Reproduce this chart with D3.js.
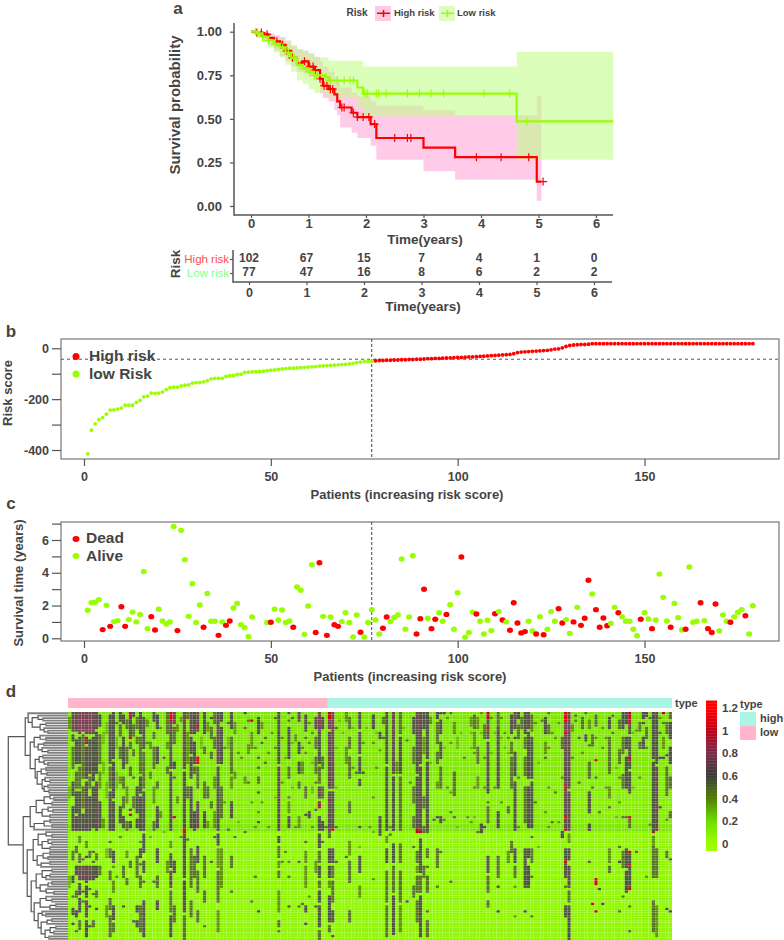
<!DOCTYPE html>
<html>
<head>
<meta charset="UTF-8">
<title>Risk model</title>
<script src="https://d3js.org/d3.v7.min.js"></script>
<style>
  * { margin: 0; padding: 0; box-sizing: border-box; }
  body { background: #fff; }
  text { font-family: "Liberation Sans", Arial, sans-serif; font-weight: bold; fill: #444; }
  .tick line, .axis-line { stroke: #555; }
</style>
</head>
<body>
<div id="chart"></div>
<script>
// panel a: survival curves
const highTimes = [0,.1,.2,.3,.4,.5,.6,.7,.8,.9,1.0,1.1,1.2,1.25,1.35,1.45,1.5,1.55,1.75,1.85,2.08,2.18,3.0,3.55,4.97,5.05];
const highSurv  = [1,.995,.985,.965,.945,.925,.89,.85,.82,.83,.80,.78,.73,.69,.67,.64,.60,.565,.535,.51,.47,.39,.335,.28,.14,.14];
const highLower = [1,.97,.95,.92,.89,.86,.83,.80,.77,.76,.74,.72,.645,.62,.60,.55,.52,.45,.42,.39,.345,.265,.2,.15,.03,.03];
const highUpper = [1,1,1,.99,.98,.97,.95,.92,.90,.89,.875,.857,.83,.80,.77,.74,.72,.68,.65,.63,.60,.575,.55,.52,.63,.63];
const lowTimes = [0,.1,.2,.3,.4,.5,.6,.7,.8,.9,1.0,1.1,1.3,1.35,1.85,1.95,4.62,6.3];
const lowSurv  = [1,.99,.97,.95,.93,.91,.88,.85,.81,.79,.77,.75,.74,.72,.68,.645,.485,.485];
const lowLower = [1,.97,.94,.91,.88,.85,.81,.77,.72,.70,.67,.65,.64,.62,.565,.515,.265,.265];
const lowUpper = [1,1,.99,.98,.97,.96,.94,.92,.90,.89,.875,.853,.853,.833,.833,.80,.885,.885];
const highCensor = [.1,.18,.28,.45,.52,.55,.62,.72,.93,1.02,1.08,1.12,1.2,1.27,1.32,1.38,1.42,1.58,1.62,1.78,1.85,1.95,2.05,2.15,2.5,2.72,2.78,3.92,4.35,4.83,5.08];
const lowCensor = [.08,.12,.2,.3,.42,.55,.65,.75,.85,.95,1.02,1.1,1.15,1.3,1.38,1.5,1.62,1.72,1.78,1.98,2.02,2.18,2.22,2.35,2.72,2.93,3.13,3.35,4.05,4.5,4.8];
const tableYears = [0,1,2,3,4,5,6];
const tableHigh = [102,67,15,7,4,1,0];
const tableLow = [77,47,16,8,6,2,2];

// panel b: risk score for patients 1..179, sorted
const riskScore = [-415,-322,-297,-281,-273,-259,-243,-242,-239,-235,-224,-224,-224,-213,-205,-191,-188,-176,-177,-176,
  -172,-163,-155,-153,-153,-148,-145,-144,-137,-135,-135,-132,-127,-120,-118,-118,-118,-111,-108,-107,
  -103,-102,-95,-94,-93,-92,-91,-90,-88,-86,-85,-83,-81,-80,-78,-78,-77,-76,-75,-74,
  -73,-72,-70,-69,-68,-67,-66,-65,-64,-63,-61,-59,-56,-54,-52,-52,-51,
  -49,-48,-48,-47,-47,-46,-46,-45,-45,-44,-44,-43,-43,-42,-41,-41,-40,-40,-39,-38,-38,-37,-36,
  -36,-35,-34,-34,-33,-32,-31,-30,-29,-28,-27,-26,-25,-24,-21,-17,-15,-14,-13,-12,-11,-10,-9,-8,-6,-3,-2,
  2,7,11,13,14,15,15,16,18,18,18,18,18,18,18,18,18,18,18,18,18,18,18,18,18,18,18,18,18,18,18,
  18,18,18,18,18,18,18,18,18,18,18,18,18,18,18,18,18,18,18,18,18];

// panel c: survival time, null where no point shows
const survivalTime = [1.71,2.17,2.2,2.36,.53,2.01,.73,1.02,1.08,1.93,.73,1.14,1.6,1.0,1.46,4.07,.59,1.32,.51,1.77,
  1.06,.87,1.0,6.83,.47,6.59,4.8,1.34,3.33,.96,2.03,.67,2.74,1.04,1.04,.18,1.0,.79,1.06,1.85,
  2.13,.83,.65,.1,1.3,null,null,null,.96,.98,1.77,1.12,1.73,.96,1.06,.67,3.13,2.93,.24,1.97,
  4.49,.35,4.61,1.34,.18,1.3,.83,.73,1.02,1.56,.96,.08,1.42,.37,.08,.96,1.75,1.12,.26,.61,
  1.3,1.02,1.28,1.42,4.84,.55,1.3,5.04,.26,1.2,2.99,1.22,.59,1.16,1.56,1.04,1.46,2.05,.55,2.78,
  4.96,.06,.35,1.6,1.48,1.04,.26,1.1,.47,1.5,1.63,1.12,1.0,.49,2.17,.93,.33,.41,1.04,.45,
  .26,1.32,.22,.55,1.63,1.04,1.81,.93,1.14,.3,1.0,1.89,.79,1.22,3.54,2.7,1.75,.67,1.24,.77,
  .91,1.89,1.56,1.32,1.04,1.04,.55,.16,1.16,1.56,1.18,.59,1.12,3.92,2.5,1.06,.67,2.13,1.26,.51,
  .55,4.35,.98,1.04,2.17,1.08,.59,.35,2.09,.45,1.42,1.04,.98,1.3,1.59,1.75,1.38,.26,1.99];
const deadPatients = [5,7,10,11,18,19,25,32,36,38,39,50,56,62,63,65,67,68,74,80,81,89,90,91,93,94,97,101,105,110,112,114,115,116,117,118,121,123,127,128,131,133,134,135,137,138,139,140,143,149,152,157,161,165,167,168,169,173,177];

// panel d: dark runs per heatmap column, "first-last/level" by row, level in tenths
const heatRowCount = 92;
const heatRowBase = [.2,.18,.2,.16,.2,.18,.16,.2,.14,.18,.16,.2,.14,.18,.16,.14,.18,.16,.14,.2,.16,.14,.18,.14,.16,.18,.14,.12,.16,.14,
  .12,.16,.14,.12,.15,.13,.11,.15,.12,.14,.11,.13,.15,.12,.14,.16,.18,.2,.08,.05,.06,.05,.07,.05,.08,.06,.09,.07,.05,.08,
  .06,.09,.07,.05,.08,.06,.05,.08,.06,.07,.05,.08,.06,.05,.07,.09,.06,.05,.08,.06,.07,.05,.08,.06,.05,.07,.06,.05,.08,.06,.05,.07];
const heatRuns = [
  "2-6/4 30-34/3 66-70/3","0-7/7 9-11/6 14-22/5 28-33/6 38-47/6 56-59/5 66-68/6 74/5 79-81/6 85/6","0-7/7 11-20/6 24-30/5 32-40/6 42-47/7 54-56/5 62-65/6 72-74/5 80-82/6 88/5",
  "0-8/8 10-20/6 22-30/5 32-47/6 50-52/4 57-60/5 62-67/7 69-73/6 75-80/6 84-87/5","0-7/8 9-26/5 30-38/5 41-47/6 59/5 62-67/7 72/5 76/5","0-8/8 10-12/9 14-26/7 28-47/7 52-54/4 58/6 62-68/7 70-74/6 76-82/7 84-90/6",
  "0-8/8 11-24/6 26-30/5 34-47/6 56-58/5 62-67/7 71/5 78/6 86/6","0-8/7 10-27/6 30-46/6 56/5 60/5 62-67/6 73/5 84-86/5","0-6/7 8-24/6 28-47/7 57-59/5 62-66/6 72-74/5 79/6",
  "1-5/6 9-20/5 24-30/4 36-46/6 62-65/5","8-12/3 20-24/3 43-46/4","4-8/3 28-34/3 55-58/3 78-82/4",
  "1-20/6 22-30/5 32-47/6 52/5 55-58/5 64-67/5 75-79/5 82-90/5","0-18/6 20-34/6 36-47/6 56-60/6 62/4 68-72/4 78-83/6 85-88/5","4/5 10-14/3 24-30/3 66/4",
  "0-3/6 5-9/5 14-18/5 26-28/4 38-44/6 50/4","1-4/6 10-22/6 26-30/5 34-38/5 42-46/6 62-66/5 78/6","3-6/5 14-20/5 30-36/4 44-47/5 56-58/4 67-69/5",
  "0-2/9 3-9/6 10/11 12-14/5 22-25/5 39/6 41/11 44-46/6 60-62/5","0-1/6 5-9/5 15-17/5 26/5 34-38/5 84/6","2-6/5 10-12/5 30-40/6 43-46/6 58-66/5 78-80/6 84-86/6",
  "0-8/6 10-24/5 26-32/6 34-47/6 52/4 55-58/6 61/5 66-70/5 78-88/5","2-14/6 16-30/5 32-47/6 49-56/6 60-64/6 68/5 76-90/6","3-5/4 12/4","12-14/4 24-26/4 50/3",
  "0-3/6 8-10/5 14-22/5 30-36/4 44-47/5 68/5","1-6/6 14-20/6 28-30/5 38-46/6 55-60/6 66-70/5 76-79/6","6/4 40-42/4","18/5 48/3","0-8/5 12-14/4 22-24/5 60-64/4",
  "0-3/11 4-8/7 9-22/6 24-47/6 52-54/4 57-62/6 64-70/7 72-80/5 82-90/6","0-4/8 6-12/5 20-22/6 26/5 42/10 60-64/6 78-84/5","5-7/4 34-36/4","2-3/4 50/4",
  "0-22/7 24-47/6 47-48/11 49-66/6 68-80/6 82-91/5","0-2/5 8-20/4 30-34/5 51/5","0-8/7 10-16/6 18-26/6 30-46/6 55-70/5 76-82/5","0-8/6 12-20/6 22-24/5 40-47/6 58-66/5",
  "0-7/7 5/10 18-20/11 22-30/5 36-46/7 54-60/6 64-72/5 80-84/5","10-14/3","0-8/6 14-16/5 28-34/5 40-46/6 58-66/5 72-76/5 86/5","4-7/4 30-34/5 44-46/4",
  "2/6 6-10/5 16-18/5 36-38/5 60/5","0-4/5 10-14/5 26-30/4 40-46/4 50/5","0-20/7 22-47/6 49-53/6 55-62/4 64-76/5 80-88/4","0-3/6 6-20/6 30-42/5 55-70/4","14/4 36/4","4/5 10-14/3 47/5",
  "0-6/6 10-24/5 26-30/4 36-42/6 58-62/5 72/5","4-8/4 24-26/4 50/5","16/4 44/3","18/4","0/6 6/5 26-28/4 48/5","3/5 13-16/4 28/5","3/10 8-14/4 36/4 76/5","14/4 46/4 66/5",
  "2-8/6 18/5 22/5 26-28/5 32/6 40/4 44/6 80/6","4-6/4 12/5 36/4","10/5 20/5","16/4 46/4","8/4","2/5 14/4 34/3",
  "0-20/6 22-47/7 50-52/6 54-58/5 60-62/4 64-66/5 72-80/4 84-86/5 88/5","10/4 28/4 60/4","18/3 56/4","0/8 3/5 6-18/6 22-26/5 34/5 36-40/4 42-46/6 60/4 66/5 78/6","2/5 12/3 30/3","9-11/4 46/4",
  "0-3/7 12-16/6 20-24/6 28-30/5 42-46/4 60/5 78/5","14/4 20-24/4 77/5","1-7/6 10/5 16/4 30-34/5 41/6 52/5 56-60/4 62-70/4 78-80/6 85/6","4/4 12/4 40-42/6 74/4","8/4 20/3 30-32/3 46/4",
  "2-6/7 10-14/5 18-24/5 28/5 39/5 60-64/4 78/6","0-7/8 8-20/6 22-28/5 30-34/7 36-38/9 42-47/6 49-54/6 56-60/5 62-66/6 68-70/5 72-76/6 78-86/6 88-91/5","2-6/7 18-22/5 30-34/5 44-47/6 52/5","46/5",
  "0-2/10 3-6/8 8-30/7 32-47/7 48-50/5 55-60/6 62-66/6 68-70/4 74-84/6 86-88/5","0-7/8 8-30/7 32-47/6 47/11 55-60/6 62-66/5 68-76/5 80-84/6 90/6","6/5 14/3 30/3 46/5 60/5","3/3","8/3","0-3/4 14-20/4 58/5",
  "2-6/5 10-14/5 18-26/5 36-40/5 52-57/4 60-68/5 80-84/5","6/3 22/4","24/5","0-6/6 8-16/6 18-24/6 27-29/6 46/6 54/3 58-64/6 70-74/4","12/4 24/6","6/3","46/4",
  "1-6/6 12/4 34/4 48/3 67/4","8/3 22/4","8-10/6 15/4 42-49/6","2-4/5 10/5","0-20/6 22-47/6 50-52/4 55-60/6 64-76/5 78-90/5","46/4 49/5","0-24/7 26-47/6 53-60/6 62-72/5 74-89/6","20-24/4",
  "0-8/5 10-24/6 26-47/5 53-60/5 64-76/5 78-88/4","6/3","11/5 76/6","28/4","2-8/6 14-20/5 30-36/5 42-46/5 54/5 70-74/5","0-8/7 9-24/6 26-47/6 47-48/10 56-60/5 62-64/4 66-72/5 76-84/5",
  "0-20/7 22-47/7 48/10 51-55/6 56-64/6 66-72/5 74-90/6","0-6/6 10-16/4 34-38/5 46-48/5 62-66/5","0-18/6 20-47/6 48/5 55-58/5 62/5 66-72/5 80/5 84-90/5","2-4/4 20/3","43/5",
  "0-2/6 4-12/5 16-20/5 28-30/4 42/6 55-62/5 70/5","0/6 3-8/6 12-18/6 22-30/5 42-44/6 56/5","0/6 14/3 43/4","2/4 30/4","0/5 12/4 32/4 40/5 68/5","4-8/4 24-33/5 42/5","10-14/3 46/3","8/3","18/4","42/4",
  "2-5/4 8/3 14/3 44/4","1-6/5 8-14/4 16/4 30/4 42/3","2-6/4 14-20/5 26-30/4 48/5","0/4 8/3 45-48/6","5-10/5 18/4 30/4 46/6",
  "0-2/10 3-5/6 6/11 7-10/7 12-32/6 36/5 38-44/5 58-64/6 66-72/5 76-78/5","2/4 16/3","8/3 30/4","0-5/5 6-30/6 40-46/6 58-66/5 70/6 80/6","2/4 10/3 36/4","8/4 14/3","10/4 16/3 38-40/5 56-60/4",
  "1-8/6 12-16/5 18-30/5 52-56/5","0-6/7 10/6 16-25/6 28-47/6 55-60/6 62-66/5 70/4 82/4","0-2/6 5-10/5 26/4 46/4","2-6/5","0-8/6 10-14/5 18-25/5 30-44/5 55-70/6 80/6",
  "0-6/7 8-26/6 30-46/6 55-58/6 62-70/6","1-7/5 10-26/6 28-46/6 50/5 55-60/5 66/5 82/5","4/4 36/5","20/3 54/3","3/5","2-8/6 12-16/4 18/5 40/4","0/5 5-8/5 14/4 30/4 46/4","8/4 44/5","10/4 32/5","4/4 44/4",
  "10-14/5 26/4 48-50/6","0-3/11 4-7/8 8/11 9-47/7 30/11 42/11 47/9 55-60/6 60/11 61-66/6 70/5 78-82/6","0-7/8 8-30/7 32-47/7 49-52/4 55-59/6 62-70/7 72-76/5 78-91/6","5-7/4 18/4","1/5 3/5","10/5 28/5","2-6/5 16/4","0/5 9-11/6",
  "3-6/4 13/5 20-26/5 32-40/6 45-47/6 60/5","9-13/5 30/5 77/11","1-5/5 10/4 19/11 26/5 67-69/11 80/10","40/5 71/6","6/4 14/4 77/6","10/4 30/4","2-6/6 10-24/5 30-34/4 38/5 55-60/4 62-64/5","1/5 8/5","22/3 42/3",
  "3-6/5 15-20/5 26/4 36/4 54/5 60/6 80/5","0-6/6 10-16/5 25-30/5 42/5 56-62/5 74/5","0-4/6 10-14/6 18-30/6 42/5 55-62/6 64-72/6",
  "0-1/10 2-3/9 4/11 5-8/6 10-17/6 18/10 19-22/6 24-32/6 42-46/5 42/11 56/11 57-60/6 61/11 62-70/6 71/11 78/5 88/5","8/3 30/3","7/4 56/5","4-7/5 12-14/5 26/4","0-2/6 4/6 10-14/6","0-1/6 6-10/5 14/4 66/4","2/5 45/4",
  "0-18/6 20-47/6 48/9 50-53/4 54-66/5 76-88/5","0-20/6 22-47/7 47/9 55-66/5 78-90/4","2/4 8/5 18/6 38/6","0/10 4/5 10-14/4 18/6","4-8/5 17/6 22-33/5 43/4 56-58/5 79/6","0-2/5 4-10/6 14-20/6 26-30/5 40-42/5 59/5 80/6"
];
// row dendrogram: [merge height, child, child], 0 is a leaf
const rowTree = [60,
  [43,[40,0,[36,[30,0,[25,0,0]],[28,[22,0,0],[24,0,[20,0,0]]]]],
    [38,[34,[28,0,[22,0,0]],[30,[24,0,0],[26,0,[20,0,0]]]],
      [33,[29,[25,0,0],[24,0,[20,0,0]]],[31,[27,[22,0,0],[21,0,0]],[26,[23,0,[18,0,0]],[24,[20,0,0],[19,0,0]]]]]]],
  [45,[38,[32,[24,[18,0,[14,0,0]],[16,0,0]],[26,[20,0,[15,0,0]],[18,0,0]]],[34,[24,[18,0,0],[16,0,0]],0]],
    [41,[35,[30,[22,0,[16,0,0]],[26,[20,0,[16,0,0]],[18,0,0]]],[31,[25,[18,0,0],[20,0,0]],[27,[18,0,0],0]]],
      [37,[32,[26,[16,0,0],[22,[18,0,0],0]],[28,[20,[16,0,0],0],[22,0,[14,0,0]]]],
        [34,[28,[22,0,[16,0,0]],[18,[12,0,0],0]],[30,[26,0,[22,0,0]],[27,[21,[16,0,0],0],[23,[18,[12,0,0],[14,0,0]],[19,0,0]]]]]]]]];
const legendTicks = [0,.2,.4,.6,.8,1,1.2];

const svg = d3.select("#chart").append("svg")
  .attr("width", 784).attr("height", 940).style("display", "block");

const red = "#ff0000", green = "#99ff00";

function label(x, y, txt, size, anchor, rotate) {
  const t = svg.append("text").attr("text-anchor", anchor || "middle")
    .attr("dominant-baseline", "middle").style("font-size", size + "px").text(txt);
  if (rotate) t.attr("transform", `translate(${x},${y}) rotate(-90)`);
  else t.attr("x", x).attr("y", y);
  return t;
}

function styleAxis(g, size) {
  g.select(".domain").remove();
  g.selectAll("text").style("font-size", size + "px");
  g.selectAll("line").attr("stroke", "#555").attr("stroke-width", 1.2);
}

label(178, 10, "a", 17);
label(11, 333, "b", 17);
label(11, 505, "c", 17);
label(11, 693, "d", 17);

// ---- panel a ----
const xKm = d3.scaleLinear().domain([0, 6]).range([251, 596]);
const yKm = d3.scaleLinear().domain([0, 1]).range([206, 31.7]);

function drawBand(times, lower, upper, color, op) {
  const area = d3.area().curve(d3.curveStepAfter)
    .x((d, i) => xKm(times[i])).y0((d, i) => yKm(lower[i])).y1((d, i) => yKm(upper[i]));
  svg.append("path").attr("d", area(times)).attr("fill", color).attr("opacity", op);
}
function drawCurve(times, surv, censor, color) {
  const line = d3.line().curve(d3.curveStepAfter).x((d, i) => xKm(times[i])).y((d, i) => yKm(surv[i]));
  svg.append("path").attr("d", line(times)).attr("fill", "none").attr("stroke", color).attr("stroke-width", 2.2);
  svg.append("g").selectAll("path").data(censor).join("path")
    .attr("d", "M-4,0H4M0,-4V4")
    .attr("transform", d => `translate(${xKm(d)},${yKm(surv[d3.bisectRight(times, d) - 1])})`)
    .attr("stroke", color).attr("stroke-width", 1.2).attr("fill", "none");
}
drawBand(highTimes, highLower, highUpper, "#ff5cb8", 0.32);
drawBand(lowTimes, lowLower, lowUpper, "#beff82", 0.55);
drawCurve(highTimes, highSurv, highCensor, red);
drawCurve(lowTimes, lowSurv, lowCensor, green);

svg.append("g").attr("transform", "translate(234,0)")
  .call(d3.axisLeft(yKm).tickValues([0, .25, .5, .75, 1]).tickFormat(d3.format(".2f")).tickSize(4).tickPadding(8))
  .call(styleAxis, 13);
svg.append("g").attr("transform", "translate(0,215)")
  .call(d3.axisBottom(xKm).ticks(7).tickSize(3).tickPadding(1))
  .call(styleAxis, 13);
svg.append("line").attr("class", "axis-line").attr("x1", 234).attr("x2", 234).attr("y1", 23).attr("y2", 215.7).attr("stroke-width", 1.5);
svg.append("line").attr("class", "axis-line").attr("x1", 234).attr("x2", 613).attr("y1", 215).attr("y2", 215).attr("stroke-width", 1.5);
label(176, 105, "Survival probability", 15, "middle", true);
label(425, 240, "Time(years)", 13.5);

// legend
label(357, 13.5, "Risk", 10);
[[375, "#fdcbe6", red, "High risk", 394], [439, "#ddfcc0", green, "Low risk", 457]].forEach(k => {
  svg.append("rect").attr("x", k[0]).attr("y", 6).attr("width", 16).attr("height", 15).attr("fill", k[1]);
  svg.append("path").attr("d", `M${k[0] + 2},13.3H${k[0] + 15}M${k[0] + 8.5},10V17`).attr("stroke", k[2]).attr("stroke-width", 1.6);
  label(k[4], 13.5, k[3], 9.5, "start");
});

// risk table
const xTab = d3.scaleLinear().domain([0, 6]).range([249, 594]);
const yTab = d3.scalePoint().domain(["High risk", "Low risk"]).range([259, 273]);
[["High risk", tableHigh], ["Low risk", tableLow]].forEach(r => {
  svg.append("g").selectAll("text").data(r[1]).join("text")
    .attr("x", (d, i) => xTab(tableYears[i])).attr("y", yTab(r[0]))
    .attr("text-anchor", "middle").attr("dominant-baseline", "middle")
    .style("font-size", "12px").text(d => d);
});
svg.append("g").attr("transform", "translate(233,0)")
  .call(d3.axisLeft(yTab).tickSize(3).tickPadding(1))
  .call(styleAxis, 11.5)
  .selectAll("text").style("font-weight", "normal")
  .style("fill", d => d === "High risk" ? "#ff4d4d" : "#86ff86");
svg.append("g").attr("transform", "translate(0,282)")
  .call(d3.axisBottom(xTab).tickValues(tableYears).tickFormat(d => d).tickSize(3).tickPadding(3))
  .call(styleAxis, 12.5);
svg.append("line").attr("class", "axis-line").attr("x1", 233).attr("x2", 233).attr("y1", 250).attr("y2", 282.7).attr("stroke-width", 1.5);
svg.append("line").attr("class", "axis-line").attr("x1", 233).attr("x2", 612).attr("y1", 282).attr("y2", 282).attr("stroke-width", 1.5);
label(176, 264, "Risk", 13.5, "middle", true);
label(423, 307, "Time(years)", 13.5);

// ---- panels b and c ----
const xPat = d3.scaleLinear().domain([0, 150]).range([84, 644.5]);

function framePanel(top, bottom, yScale, yTicks, yFormat) {
  svg.append("rect").attr("x", 61).attr("y", top).attr("width", 718).attr("height", bottom - top)
    .attr("fill", "none").attr("stroke", "#777").attr("stroke-width", 1.2);
  svg.append("g").attr("transform", `translate(61,0)`)
    .call(d3.axisLeft(yScale).tickValues(yTicks).tickFormat(yFormat).tickSize(9).tickPadding(3))
    .call(styleAxis, 12.5);
  svg.append("g").attr("transform", `translate(0,${bottom})`)
    .call(d3.axisBottom(xPat).tickValues([0, 50, 100, 150]).tickSize(7).tickPadding(6))
    .call(styleAxis, 12.5);
  svg.append("line").attr("x1", xPat(77)).attr("x2", xPat(77)).attr("y1", top).attr("y2", bottom)
    .attr("stroke", "#444").attr("stroke-dasharray", "3,2");
}

const yRisk = d3.scaleLinear().domain([-400, 0]).range([450, 348.3]);
framePanel(339, 459, yRisk, [-400, -300, -200, -100, 0], d => d % 200 === 0 ? d : "");
svg.append("line").attr("x1", 61).attr("x2", 779).attr("y1", yRisk(-43)).attr("y2", yRisk(-43))
  .attr("stroke", "#555").attr("stroke-dasharray", "3,3");
svg.append("g").selectAll("circle").data(riskScore).join("circle")
  .attr("cx", (d, i) => xPat(i + 1)).attr("cy", d => yRisk(d)).attr("r", 1.9)
  .attr("fill", (d, i) => i < 77 ? green : red);
svg.append("circle").attr("cx", 76).attr("cy", 356.5).attr("r", 3.5).attr("fill", red);
svg.append("circle").attr("cx", 76).attr("cy", 374).attr("r", 3.5).attr("fill", green);
label(89, 357, "High risk", 15.5, "start");
label(89, 374.5, "low Risk", 15.5, "start");
label(9, 393, "Risk score", 13, "middle", true);
label(407, 496, "Patients (increasing risk score)", 13);

const yTime = d3.scaleLinear().domain([0, 6]).range([638.3, 540]);
framePanel(522, 641, yTime, [0, 1, 2, 3, 4, 5, 6, 7], d => d % 2 === 0 ? d : "");
svg.append("g").selectAll("ellipse")
  .data(survivalTime.map((v, i) => ({ patient: i + 1, v })).filter(d => d.v !== null))
  .join("ellipse")
  .attr("cx", d => xPat(d.patient)).attr("cy", d => yTime(d.v)).attr("rx", 3).attr("ry", 2.7)
  .attr("fill", d => deadPatients.includes(d.patient) ? red : green);
svg.append("ellipse").attr("cx", 76).attr("cy", 539).attr("rx", 3.5).attr("ry", 3).attr("fill", red);
svg.append("ellipse").attr("cx", 76).attr("cy", 556).attr("rx", 3.5).attr("ry", 3).attr("fill", green);
label(86, 539, "Dead", 15.5, "start");
label(86, 556.5, "Alive", 15.5, "start");
label(20, 583, "Survival time (years)", 13, "middle", true);
label(410, 678, "Patients (increasing risk score)", 13);

// ---- panel d ----
const heatColor = d3.scaleLinear()
  .domain([0, .2, .4, .6, .8, 1, 1.2])
  .range(["#99ff00", "#6fdc00", "#4d8000", "#3c3c3c", "#7a2f4a", "#c0001a", "#ff0000"])
  .clamp(true);
const cellColor = d3.scaleLinear()
  .domain([0, .2, .4, .6, .8, 1, 1.2])
  .range(["#99ff00", "#7be400", "#5c9400", "#4b4f40", "#7a3a55", "#c0001a", "#ff0000"])
  .clamp(true);
const xHeat = d3.scaleBand().domain(d3.range(heatRuns.length)).range([68, 672]);
const yHeat = d3.scaleBand().domain(d3.range(heatRowCount)).range([712, 940]);

// soften the cells, the source picture is a scaled raster
svg.append("defs").append("filter").attr("id", "soft")
  .attr("filterUnits", "userSpaceOnUse").attr("x", 68).attr("y", 712).attr("width", 604).attr("height", 228)
  .append("feGaussianBlur").attr("stdDeviation", 0.75);

const heatCells = [];
heatRuns.forEach((spec, col) => {
  const values = heatRowBase.slice();
  spec.split(" ").forEach(tok => {
    const [range, level] = tok.split("/");
    const [a, b] = range.split("-").map(Number);
    for (let r = a; r <= (b === undefined ? a : b); r++) values[r] = +level / 10;
  });
  values.forEach((v, row) => heatCells.push({ col, row, v }));
});
svg.append("g").attr("filter", "url(#soft)").selectAll("rect").data(heatCells).join("rect")
  .attr("x", d => xHeat(d.col)).attr("y", d => yHeat(d.row))
  .attr("width", xHeat.bandwidth()).attr("height", yHeat.bandwidth())
  .attr("fill", d => cellColor(d.v))
  .attr("stroke", "#c8ff80").attr("stroke-opacity", 0.1).attr("stroke-width", 0.5);

// type bar, low risk patients first
svg.append("rect").attr("x", xHeat(0)).attr("y", 698).attr("width", xHeat(77) - xHeat(0)).attr("height", 10).attr("fill", "#ffb6cd");
svg.append("rect").attr("x", xHeat(77)).attr("y", 698).attr("width", 672 - xHeat(77)).attr("height", 10).attr("fill", "#aaf5e6");
label(675, 704, "type", 11, "start");

// dendrogram
const root = d3.hierarchy(rowTree, d => Array.isArray(d) ? d.slice(1) : null);
const leaves = root.leaves();
const yLeaf = d3.scaleBand().domain(d3.range(leaves.length)).range([712, 940]);
const xTree = d3.scaleLinear().domain([0, 60]).range([68, 8.3]);
leaves.forEach((n, i) => { n.py = yLeaf(i) + yLeaf.bandwidth() / 2; n.h = 0; });
root.eachAfter(n => {
  if (n.children) {
    n.py = d3.mean(n.children, c => c.py);
    n.h = n.data[0];
  }
});
const treeG = svg.append("g").attr("fill", "none");
treeG.selectAll("path").data(root.descendants().filter(n => n.parent)).join("path")
  .attr("d", n => `M${xTree(n.h)},${n.py}H${xTree(n.parent.h)}V${n.parent.py}`)
  .attr("stroke", n => n.children ? "#555" : "#808080")
  .attr("stroke-width", n => n.children ? 1.2 : 1.8);

// colour bar
const yBar = d3.scaleLinear().domain([0, 1.2]).range([845, 709]);
svg.append("g").selectAll("rect").data(d3.range(-0.05, 1.27, 0.0265)).join("rect")
  .attr("x", 706).attr("width", 11)
  .attr("y", d => yBar(d + 0.0265)).attr("height", yBar(0) - yBar(0.0265) + 0.3)
  .attr("fill", d => heatColor(d));
svg.append("g").selectAll("text").data(legendTicks).join("text")
  .attr("x", 722).attr("y", d => yBar(d)).attr("dominant-baseline", "middle")
  .style("font-size", "11.5px").text(d => d);
label(740, 705, "type", 11, "start");
svg.append("rect").attr("x", 740).attr("y", 712).attr("width", 16).attr("height", 14).attr("fill", "#aaf5e6");
svg.append("rect").attr("x", 740).attr("y", 726).attr("width", 16).attr("height", 14).attr("fill", "#ffb6cd");
label(760, 719, "high", 11, "start");
label(760, 733.5, "low", 11, "start");
</script>
</body>
</html>
